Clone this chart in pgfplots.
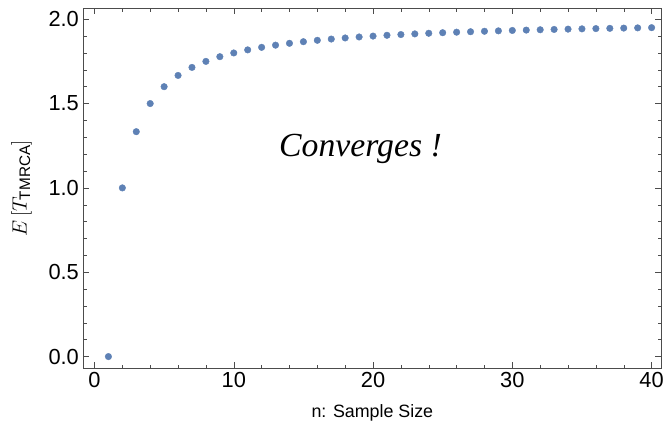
\documentclass[border={8bp 0pt 5bp 8bp}]{standalone}
\usepackage{amsmath}
\usepackage{pgfplots}
\pgfplotsset{compat=1.18}
\usepackage{fontspec}
\setmainfont{Liberation Sans}
\newfontfamily\serifit{Liberation Serif}
\definecolor{mmablue}{HTML}{5E81B5}

\begin{document}
\begin{tikzpicture}
\begin{axis}[
    scale only axis,
    width=581bp, height=362bp,
    xmin=-0.8, xmax=40.7,
    ymin=-0.07, ymax=2.065,
    xtick={0,10,20,30,40},
    minor xtick={2,4,6,8,12,14,16,18,22,24,26,28,32,34,36,38},
    ytick={0,0.5,1,1.5,2},
    minor ytick={0.1,0.2,0.3,0.4,0.6,0.7,0.8,0.9,1.1,1.2,1.3,1.4,1.6,1.7,1.8,1.9},
    yticklabel style={/pgf/number format/fixed, /pgf/number format/fixed zerofill, /pgf/number format/precision=1, xshift=-1bp},
    /pgf/number format/assume math mode=true,
    tick align=inside,
    major tick length=6bp, minor tick length=3.5bp,
    axis line style={draw=black!70, line width=0.6bp},
    tick style={draw=black!70, line width=0.5bp},
    ticklabel style={font=\fontsize{22}{25}\selectfont},
    xlabel={n: Sample Size},
    ylabel={$E\left[T_{\text{TMRCA}}\right]$},
    xlabel style={font=\fontsize{18}{22}\selectfont, yshift=-10bp},
    ylabel style={font=\fontsize{22}{26}\selectfont, yshift=10bp},
    clip=false,
]
\addplot[only marks, mark=*, mark size=3.3bp, color=mmablue, mark options={draw=mmablue, fill=mmablue}] coordinates {
(1,0) (2,1) (3,1.3333) (4,1.5) (5,1.6) (6,1.6667) (7,1.7143) (8,1.75)
(9,1.7778) (10,1.8) (11,1.8182) (12,1.8333) (13,1.8462) (14,1.8571)
(15,1.8667) (16,1.875) (17,1.8824) (18,1.8889) (19,1.8947) (20,1.9)
(21,1.9048) (22,1.9091) (23,1.9130) (24,1.9167) (25,1.92) (26,1.9231)
(27,1.9259) (28,1.9286) (29,1.9310) (30,1.9333) (31,1.9355) (32,1.9375)
(33,1.9394) (34,1.9412) (35,1.9429) (36,1.9444) (37,1.9459) (38,1.9474)
(39,1.9487) (40,1.95)
};
\node[font=\serifit\itshape\fontsize{34}{38}\selectfont] at (axis cs:19.1,1.23) {Converges !};
\end{axis}
\end{tikzpicture}
\end{document}
